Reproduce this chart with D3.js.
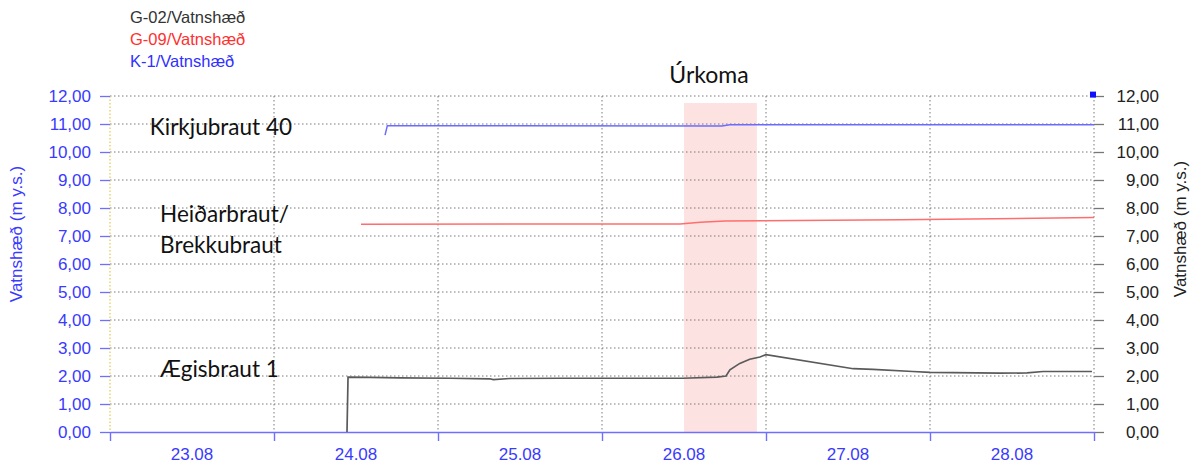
<!DOCTYPE html>
<html><head><meta charset="utf-8">
<script src="https://cdn.jsdelivr.net/npm/d3@7"></script>
<style>body{margin:0;background:#fff}svg{display:block}</style>
</head><body><svg id="c" width="1190" height="466"></svg>
<script>
// ---------------- data ----------------
const seriesNames = ["G-02/Vatnshæð", "G-09/Vatnshæð", "K-1/Vatnshæð"];
const dayLabels = ["23.08", "24.08", "25.08", "26.08", "27.08", "28.08"];
const dayBoundaries = ["23.08 00:00", "24.08 00:00", "25.08 00:00", "26.08 00:00", "27.08 00:00", "28.08 00:00", "29.08 00:00"];
const yTicks = [0, 1, 2, 3, 4, 5, 6, 7, 8, 9, 10, 11, 12];

const g02Times = ["24.08 10:41", "24.08 10:50", "24.08 14:03", "24.08 18:26", "25.08 01:45", "25.08 07:36", "25.08 08:05", "25.08 10:32", "25.08 17:51", "26.08 02:38", "26.08 11:51", "26.08 16:49", "26.08 18:09", "26.08 18:43", "26.08 20:10", "26.08 21:37", "26.08 23:07", "27.08 00:00", "27.08 12:46", "27.08 15:39", "27.08 21:30", "28.08 00:00", "28.08 10:15", "28.08 14:12", "28.08 16:32", "28.08 23:42"];
const g02Values = [0.00, 1.96, 1.95, 1.93, 1.92, 1.90, 1.87, 1.91, 1.92, 1.92, 1.92, 1.96, 2.00, 2.22, 2.45, 2.60, 2.68, 2.76, 2.26, 2.24, 2.16, 2.13, 2.10, 2.11, 2.16, 2.16];

const g09Times = ["24.08 12:44", "26.08 11:26", "26.08 14:24", "26.08 18:00", "27.08 19:37", "29.08 00:00"];
const g09Values = [7.42, 7.43, 7.49, 7.54, 7.58, 7.66];

const k1Times = ["24.08 16:15", "24.08 16:35", "26.08 17:32", "26.08 18:43", "29.08 00:00"];
const k1Values = [10.60, 10.94, 10.93, 10.97, 10.97];

const rainStart = "26.08 12:00", rainEnd = "26.08 22:40", rainTop = 11.75;
const markerTime = "29.08 00:00", markerValue = 12.05;

const labels = [
  {text: "Kirkjubraut 40", t: "23.08 05:50", v: 10.6},
  {text: "Heiðarbraut/", t: "23.08 07:20", v: 7.5},
  {text: "Brekkubraut", t: "23.08 07:20", v: 6.4},
  {text: "Ægisbraut 1", t: "23.08 07:20", v: 1.95}
];

// ---------------- chart ----------------
const parse = d3.utcParse("%d.%m %H:%M");
const svg = d3.select("#c");
const L = 110, R = 1094, T = 96, B = 432;
const x = d3.scaleUtc().domain([parse("23.08 00:00"), parse("29.08 00:00")]).range([L, R]);
const y = d3.scaleLinear().domain([0, 12]).range([B, T]);
const fmt = v => d3.format(".2f")(v).replace(".", ",");
const BLUE = "#3a3aff", AXBLUE = "#6f6fff";
const SANS = "Liberation Sans, Arial, sans-serif";

// rain shading
svg.append("rect")
  .attr("x", x(parse(rainStart))).attr("y", y(rainTop))
  .attr("width", x(parse(rainEnd)) - x(parse(rainStart)))
  .attr("height", y(0) - y(rainTop))
  .attr("fill", "#fde2e2");

// grid
svg.append("g").selectAll("line").data(yTicks.filter(d => d > 0)).join("line")
  .attr("x1", L).attr("x2", R).attr("y1", d => y(d)).attr("y2", d => y(d))
  .attr("stroke", "#7a7a7a").attr("stroke-width", 1).attr("stroke-dasharray", "1.5,2.5");
svg.append("g").selectAll("line").data(dayBoundaries.slice(1)).join("line")
  .attr("x1", d => x(parse(d))).attr("x2", d => x(parse(d))).attr("y1", y(12)).attr("y2", B)
  .attr("stroke", "#7a7a7a").attr("stroke-width", 1).attr("stroke-dasharray", "1.5,2.5");
svg.append("line").attr("x1", L).attr("x2", L).attr("y1", y(12)).attr("y2", B)
  .attr("stroke", "#e3c84a").attr("stroke-width", 1.2).attr("stroke-dasharray", "1.5,2");

// left axis
const gl = svg.append("g").attr("transform", `translate(${L},0)`)
  .call(d3.axisLeft(y).tickValues(yTicks).tickSize(10).tickPadding(9).tickFormat(fmt));
gl.select(".domain").remove();
gl.selectAll(".tick line").attr("stroke", AXBLUE).attr("stroke-width", 1.3);
gl.selectAll(".tick text").attr("fill", BLUE).attr("font-family", SANS).attr("font-size", 17);

// right axis
const gr = svg.append("g").attr("transform", `translate(${R},0)`)
  .call(d3.axisRight(y).tickValues(yTicks).tickSize(10).tickFormat(fmt));
gr.select(".domain").remove();
gr.selectAll(".tick line").attr("stroke", "#777").attr("stroke-width", 1.3);
gr.selectAll(".tick text").attr("fill", "#222").attr("font-family", SANS)
  .attr("font-size", 17).attr("text-anchor", "end").attr("x", 65);

// bottom axis
const gb = svg.append("g").attr("transform", `translate(0,${B})`)
  .call(d3.axisBottom(x).tickValues(dayBoundaries.map(parse)).tickSize(9).tickSizeOuter(0).tickFormat(""));
gb.select(".domain").attr("stroke", AXBLUE).attr("stroke-width", 1.6);
gb.selectAll(".tick line").attr("stroke", AXBLUE).attr("stroke-width", 1.4);
svg.append("g").selectAll("text").data(dayLabels).join("text")
  .attr("x", d => x(parse(d + " 12:00"))).attr("y", 460)
  .attr("text-anchor", "middle").attr("fill", BLUE)
  .attr("font-family", SANS).attr("font-size", 17)
  .text(d => d);

// axis titles
svg.append("text").attr("transform", "translate(22,234) rotate(-90)")
  .attr("text-anchor", "middle").attr("fill", BLUE)
  .attr("font-family", SANS).attr("font-size", 17)
  .text("Vatnshæð (m y.s.)");
svg.append("text").attr("transform", "translate(1186,229) rotate(-90)")
  .attr("text-anchor", "middle").attr("fill", "#222")
  .attr("font-family", SANS).attr("font-size", 17)
  .text("Vatnshæð (m y.s.)");

// lines
const line = d3.line().x(d => x(d[0])).y(d => y(d[1]));
const series = [
  {times: g02Times, values: g02Values, color: "#5a5a5a", w: 1.7},
  {times: g09Times, values: g09Values, color: "#ff6e6e", w: 1.5},
  {times: k1Times, values: k1Values, color: "#6b6bff", w: 1.5}
];
series.forEach(s => {
  svg.append("path")
    .datum(s.times.map((t, i) => [parse(t), s.values[i]]))
    .attr("d", line).attr("fill", "none")
    .attr("stroke", s.color).attr("stroke-width", s.w);
});

// marker
svg.append("rect")
  .attr("x", x(parse(markerTime)) - 4).attr("y", y(markerValue) - 3)
  .attr("width", 6).attr("height", 6).attr("fill", "#1010ff");

// legend
const legendColors = ["#333333", "#ff3030", "#3030ff"];
svg.append("g").selectAll("text").data(seriesNames).join("text")
  .attr("x", 130).attr("y", (d, i) => 23 + i * 22)
  .attr("fill", (d, i) => legendColors[i])
  .attr("font-family", SANS).attr("font-size", 16.5)
  .text(d => d);

// title
svg.append("text").attr("x", 709).attr("y", 83).attr("text-anchor", "middle")
  .attr("fill", "#111").attr("font-family", "Lato, Open Sans, sans-serif").attr("font-size", 23)
  .text("Úrkoma");

// annotations
svg.append("g").selectAll("text").data(labels).join("text")
  .attr("x", d => x(parse(d.t))).attr("y", d => y(d.v))
  .attr("fill", "#111").attr("font-family", "Lato, Open Sans, sans-serif").attr("font-size", 22.5)
  .text(d => d.text);
</script></body></html>
